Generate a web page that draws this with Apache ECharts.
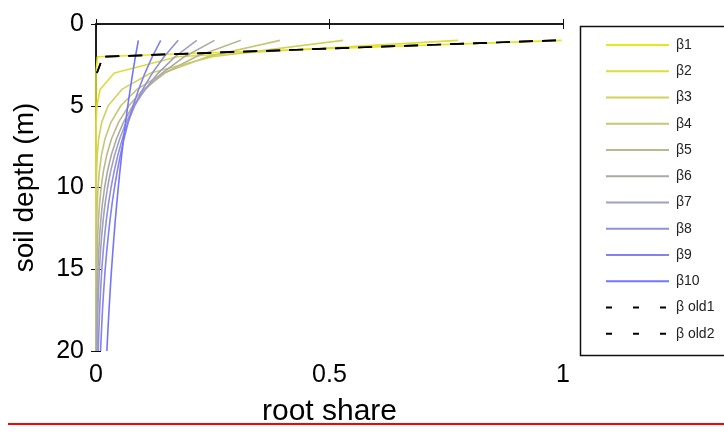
<!DOCTYPE html>
<html>
<head>
<meta charset="utf-8">
<script src="https://cdn.jsdelivr.net/npm/echarts@6/dist/echarts.min.js"></script>
<style>
  html, body { margin: 0; padding: 0; background: #fff; }
  #chart { width: 724px; height: 432px; }
</style>
</head>
<body>
<div id="chart"></div>
<script>
// Soil depth of each 1 m layer (m)
const depths = [1, 2, 3, 4, 5, 6, 7, 8, 9, 10, 11, 12, 13, 14, 15, 16, 17, 18, 19, 20];

// Root share per layer for each profile (null = layer not given)
const beta1 = [0.997, 0.003, 0, 0, 0, 0, 0, 0, 0, 0, 0, 0, 0, 0, 0, 0, 0, 0, 0, 0];
const beta2 = [0.775, 0.1744, 0.0392, 0.00883, 0.00199, 0.00045, 0.0001, 0.00002, 0, 0, 0, 0, 0, 0, 0, 0, 0, 0, 0, 0];
const beta3 = [0.529, 0.2492, 0.1174, 0.0553, 0.026, 0.01226, 0.00577, 0.00272, 0.00128, 0.0006, 0.00028, 0.00013, 0.00006, 0.00003, 0, 0, 0, 0, 0, 0];
const beta4 = [0.394, 0.2388, 0.1447, 0.0877, 0.0531, 0.0322, 0.0195, 0.01183, 0.00717, 0.00434, 0.00263, 0.00159, 0.00097, 0.00059, 0.00036, 0.00022, 0.00013, 0.00008, 0.00005, 0.00003];
const beta5 = [0.31, 0.2139, 0.1476, 0.1018, 0.0703, 0.0485, 0.0335, 0.0231, 0.0159, 0.011, 0.00758, 0.00523, 0.00361, 0.00249, 0.00172, 0.00119, 0.00082, 0.00057, 0.00039, 0.00027];
const beta6 = [0.2537, 0.1895, 0.1416, 0.1057, 0.079, 0.059, 0.0441, 0.0329, 0.0246, 0.0184, 0.0137, 0.0103, 0.00766, 0.00572, 0.00427, 0.00319, 0.00238, 0.00178, 0.00133, 0.001];
const beta7 = [0.2157, 0.1695, 0.1333, 0.1047, 0.0823, 0.0647, 0.0509, 0.04, 0.0314, 0.0247, 0.0194, 0.0153, 0.012, 0.00943, 0.00741, 0.00582, 0.00458, 0.0036, 0.00283, 0.00222];
const beta8 = [0.176, 0.1457, 0.1207, 0.0999, 0.0827, 0.0685, 0.0567, 0.047, 0.0389, 0.0322, 0.0267, 0.0221, 0.0183, 0.0151, 0.0125, 0.0104, 0.00859, 0.00711, 0.00589, 0.00488];
const beta9 = [0.1386, 0.1206, 0.1049, 0.0913, 0.0794, 0.0691, 0.0601, 0.0523, 0.0455, 0.0396, 0.0344, 0.03, 0.0261, 0.0227, 0.0197, 0.0172, 0.0149, 0.013, 0.0113, 0.00983];
const beta10 = [0.0907, 0.0844, 0.0786, 0.0732, 0.0681, 0.0634, 0.0591, 0.055, 0.0512, 0.0477, 0.0444, 0.0413, 0.0385, 0.0358, 0.0333, 0.031, 0.0289, 0.0269, 0.025, 0.0233];
const betaOld1 = [0.985, 0.015, 0.002, null, null, null, null, null, null, null, null, null, null, null, null, null, null, null, null, null];
const betaOld2 = [0.985, 0.015, 0.002, null, null, null, null, null, null, null, null, null, null, null, null, null, null, null, null, null];

const seriesNames = ['β1', 'β2', 'β3', 'β4', 'β5', 'β6', 'β7', 'β8', 'β9', 'β10', 'β old1', 'β old2'];
const seriesValues = [beta1, beta2, beta3, beta4, beta5, beta6, beta7, beta8, beta9, beta10, betaOld1, betaOld2];
const seriesColors = ['#e6e61a', '#dcdc3c', '#d2d25a', '#c6c676', '#b9b98f', '#aaaaa2', '#a0a0c4', '#9090dc', '#8282f0', '#7474ff', '#000000', '#000000'];

const xTicks = [0, 0.5, 1];
const yTicks = [0, 5, 10, 15, 20];

const FONT = '"Liberation Sans", Arial, Helvetica, sans-serif';

const isOld = name => name.indexOf('old') >= 0;

const series = seriesNames.map((name, i) => {
  const dashed = isOld(name);
  const pts = [];
  depths.forEach((d, k) => {
    if (seriesValues[i][k] !== null) pts.push([seriesValues[i][k], d]);
  });
  return {
    name: name,
    type: 'line',
    xAxisIndex: 0,
    yAxisIndex: 0,
    showSymbol: false,
    symbol: 'none',
    silent: true,
    animation: false,
    data: pts,
    lineStyle: {
      color: seriesColors[i],
      width: dashed ? 1.7 : 1.6,
      type: dashed ? [14, 9] : 'solid'
    },
    itemStyle: { color: seriesColors[i] },
    z: 2 + i
  };
});

// Legend entries: line sample only, no marker
const legendData = seriesNames.map((name, i) => ({
  name: name,
  itemStyle: { opacity: 0 },
  lineStyle: { color: seriesColors[i], width: 2, type: isOld(name) ? [6, 21] : 'solid' }
}));

const chart = echarts.init(document.getElementById('chart'), null, { renderer: 'canvas' });

const tickStyle = { show: true, inside: true, length: 5, lineStyle: { color: '#111', width: 1 } };
const axisLine = { show: true, lineStyle: { color: '#111', width: 1.5 } };

chart.setOption({
  animation: false,
  backgroundColor: '#ffffff',
  grid: { left: 96, right: 161, top: 24, bottom: 78, containLabel: false },
  xAxis: [
    {
      type: 'value', position: 'bottom', min: 0, max: 1, interval: 0.5,
      name: 'root share', nameLocation: 'middle', nameGap: 46,
      nameTextStyle: { fontFamily: FONT, fontSize: 30, color: '#000' },
      axisLine: axisLine, axisTick: tickStyle, splitLine: { show: false },
      axisLabel: {
        margin: 12, fontFamily: FONT, fontSize: 25, color: '#000',
        formatter: v => (xTicks.indexOf(v) >= 0 ? String(v) : '')
      }
    },
    {
      type: 'value', position: 'top', min: 0, max: 1, interval: 0.5,
      axisLine: axisLine, axisTick: tickStyle, axisLabel: { show: false }, splitLine: { show: false }
    }
  ],
  yAxis: [
    {
      type: 'value', position: 'left', inverse: true, min: 0, max: 20, interval: 5,
      name: 'soil depth (m)', nameLocation: 'middle', nameGap: 57, nameRotate: 90,
      nameTextStyle: { fontFamily: FONT, fontSize: 28, color: '#000' },
      axisLine: axisLine, axisTick: tickStyle, splitLine: { show: false },
      axisLabel: {
        margin: 12, fontFamily: FONT, fontSize: 25, color: '#000',
        formatter: v => (yTicks.indexOf(v) >= 0 ? String(v) : '')
      }
    },
    {
      type: 'value', position: 'right', inverse: true, min: 0, max: 20, interval: 5,
      axisLine: axisLine, axisTick: tickStyle, axisLabel: { show: false }, splitLine: { show: false }
    }
  ],
  legend: {
    orient: 'vertical',
    left: 605,
    top: 38,
    itemWidth: 63,
    itemHeight: 14,
    itemGap: 12.25,
    padding: 0,
    selectedMode: false,
    itemStyle: { opacity: 0 },
    data: legendData,
    textStyle: { fontFamily: FONT, fontSize: 14, color: '#222', padding: [0, 0, 0, 2] }
  },
  graphic: [
    {
      type: 'rect', left: 578, top: 24, z: 0, silent: true,
      shape: { x: 0, y: 0, width: 200, height: 329 },
      style: { fill: 'none', stroke: '#111', lineWidth: 1.5 }
    },
    {
      type: 'line', z: 0, silent: true,
      shape: { x1: 8, y1: 424, x2: 724, y2: 424 },
      style: { stroke: '#ff0000', lineWidth: 2 }
    }
  ],
  series: series
});
</script>
</body>
</html>
